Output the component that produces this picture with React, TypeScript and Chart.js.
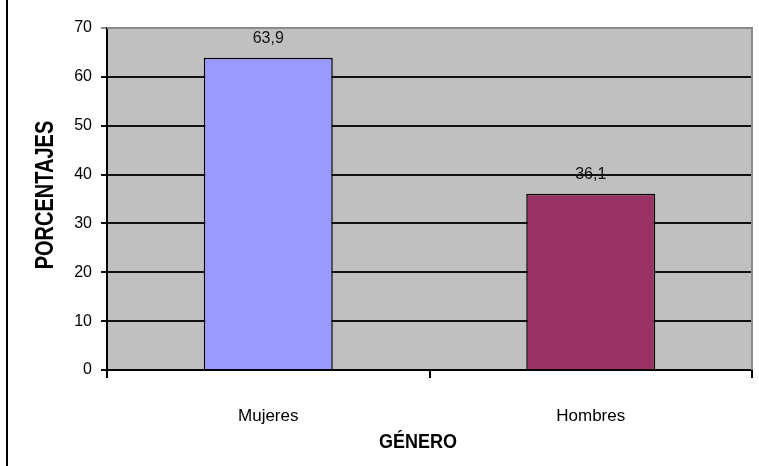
import React, { useEffect, useRef } from "react";
import { Chart, registerables } from "chart.js";

Chart.register(...registerables);

const categories = ["Mujeres", "Hombres"];
const percentages = [63.9, 36.1];
const valueLabels = ["63,9", "36,1"];
const barColors = ["#9999FF", "#993366"];
const yMin = 0;
const yMax = 70;
const yStep = 10;
const yTitle = "PORCENTAJES";
const xTitle = "GÉNERO";

const decorPlugin = {
  id: "decor",
  beforeDraw(chart: any) {
    const { ctx, chartArea } = chart;
    ctx.save();
    ctx.fillStyle = "#ffffff";
    ctx.fillRect(0, 0, chart.width, chart.height);
    ctx.fillStyle = "#C0C0C0";
    ctx.fillRect(chartArea.left, chartArea.top, chartArea.right - chartArea.left, chartArea.bottom - chartArea.top);
    ctx.restore();
  },
  afterDatasetsDraw(chart: any) {
    const { ctx } = chart;
    const meta = chart.getDatasetMeta(0);
    ctx.save();
    ctx.font = "16px 'Liberation Sans', Arial, sans-serif";
    ctx.fillStyle = "#111";
    ctx.textAlign = "center";
    ctx.textBaseline = "middle";
    meta.data.forEach((bar: any, i: number) => {
      ctx.fillText(valueLabels[i], bar.x, bar.y - 19);
    });
    ctx.restore();
  },
  afterDraw(chart: any) {
    const { ctx, chartArea } = chart;
    ctx.save();
    // plot area gray frame (top and right)
    ctx.strokeStyle = "#8a8a8a";
    ctx.lineWidth = 2;
    ctx.beginPath();
    ctx.moveTo(chartArea.left, chartArea.top);
    ctx.lineTo(chartArea.right, chartArea.top);
    ctx.lineTo(chartArea.right, chartArea.bottom);
    ctx.stroke();
    // left page border
    ctx.strokeStyle = "#000";
    ctx.lineWidth = 2;
    ctx.beginPath();
    ctx.moveTo(7, 0);
    ctx.lineTo(7, chart.height);
    ctx.stroke();
    // y title
    ctx.fillStyle = "#000";
    ctx.textAlign = "center";
    ctx.textBaseline = "middle";
    ctx.save();
    ctx.translate(46, 195);
    ctx.rotate(-Math.PI / 2);
    ctx.scale(1, 1.25);
    ctx.font = "bold 20px 'Liberation Sans', Arial, sans-serif";
    ctx.fillText(yTitle, 0, 0);
    ctx.restore();
    // x title
    ctx.save();
    ctx.translate(418, 442);
    ctx.scale(1, 1.17);
    ctx.font = "bold 18px 'Liberation Sans', Arial, sans-serif";
    ctx.fillText(xTitle, 0, 0);
    ctx.restore();
    ctx.restore();
  },
};

export default function App() {
  const ref = useRef<HTMLCanvasElement | null>(null);

  useEffect(() => {
    document.body.style.margin = "0";
    const canvas = ref.current;
    if (!canvas) return;
    const chart = new Chart(canvas, {
      type: "bar",
      data: {
        labels: categories,
        datasets: [
          {
            data: percentages,
            backgroundColor: barColors,
            borderColor: "#000",
            borderWidth: 1.5,
            categoryPercentage: 0.8,
            barPercentage: 0.5,
          },
        ],
      },
      options: {
        responsive: false,
        animation: false,
        devicePixelRatio: 1,
        layout: { padding: { top: 28, right: 7, left: 0, bottom: 0 } },
        plugins: {
          legend: { display: false },
          tooltip: { enabled: false },
        },
        scales: {
          x: {
            grid: {
              offset: true,
              drawOnChartArea: false,
              drawTicks: true,
              tickLength: 8,
              color: "#000",
              lineWidth: 2,
            },
            border: { display: true, color: "#000", width: 2 },
            ticks: {
              color: "#000",
              font: { family: "'Liberation Sans', Arial, sans-serif", size: 17 },
              padding: 28,
              maxRotation: 0,
            },
            afterFit(scale: any) {
              scale.height = 96;
            },
          },
          y: {
            min: yMin,
            max: yMax,
            grid: {
              color: (c: any) => (c.tick && c.tick.value === yMax ? "#8a8a8a" : "#111"),
              lineWidth: 2,
              tickLength: 6,
              drawTicks: true,
            },
            border: { display: true, color: "#000", width: 2 },
            ticks: {
              stepSize: yStep,
              color: "#000",
              padding: 9,
              font: { family: "'Liberation Sans', Arial, sans-serif", size: 16 },
            },
            afterFit(scale: any) {
              scale.width = 107;
            },
          },
        },
      },
      plugins: [decorPlugin],
    });
    return () => chart.destroy();
  }, []);

  return (
    <div style={{ width: 759, height: 466, position: "relative" }}>
      <canvas ref={ref} width={759} height={466} style={{ display: "block" }} />
    </div>
  );
}
